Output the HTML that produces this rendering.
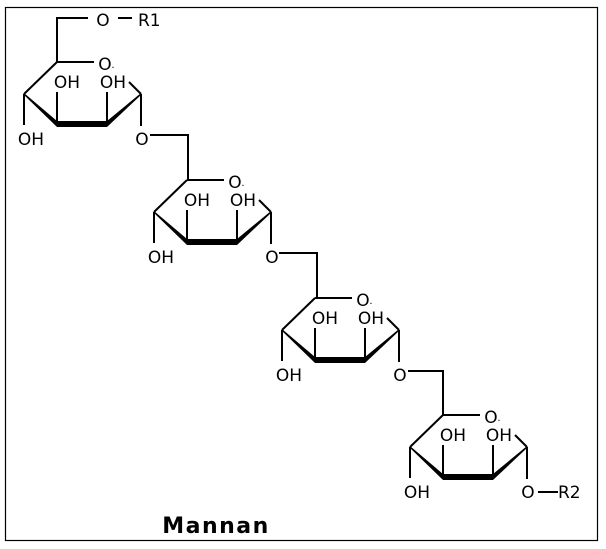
<!DOCTYPE html>
<html><head><style>html,body{margin:0;padding:0;background:#fff}svg{display:block}</style></head><body>
<svg width="606" height="549" viewBox="0 0 606 549" xmlns="http://www.w3.org/2000/svg" font-family="DejaVu Sans, Liberation Sans, sans-serif">
<rect x="5.5" y="7.5" width="592" height="533" fill="#fff" stroke="#000" stroke-width="1.2"/>
<defs>
<g id="u" stroke="#000" stroke-width="2" fill="none">
  <line x1="0" y1="0" x2="37" y2="0"/>
  <line x1="0" y1="0" x2="-33" y2="32"/>
  <line x1="72" y1="20" x2="84" y2="32"/>
  <polygon points="-33,31 -33,33 0,65 0,59" fill="#000" stroke="none"/>
  <polygon points="84,31 84,33 50,65 50,59" fill="#000" stroke="none"/>
  <line x1="0" y1="62" x2="50" y2="62" stroke-width="6"/>
  <line x1="0" y1="62" x2="0" y2="30"/>
  <line x1="50" y1="62" x2="50" y2="30"/>
  <line x1="-33" y1="32" x2="-33" y2="63"/>
  <line x1="84" y1="32" x2="84" y2="64"/>
  <g stroke="none" fill="#000" font-size="17" text-anchor="middle">
    <text x="48" y="8">O</text><text x="56" y="6" font-size="10">.</text>
    <text x="10" y="26">OH</text>
    <text x="56" y="26">OH</text>
    <text x="-26" y="83">OH</text>
    <text x="85" y="83">O</text>
  </g>
</g>
</defs>
<g stroke="#000" stroke-width="2" fill="none">
  <polyline points="57,62 57,18 88,18"/>
  <line x1="118" y1="18" x2="132" y2="18"/>
  <polyline points="150,135 188,135 188,180"/>
  <polyline points="279,253 317,253 317,298"/>
  <polyline points="408,371 443,371 443,415"/>
  <line x1="538" y1="492" x2="558" y2="492"/>
</g>
<g font-size="17" fill="#000">
  <text x="103" y="26" text-anchor="middle">O</text>
  <text x="138" y="26">R1</text>
  <text x="558" y="498">R2</text>
</g>
<use href="#u" transform="translate(57,62)"/>
<use href="#u" transform="translate(187,180)"/>
<use href="#u" transform="translate(315,298)"/>
<use href="#u" transform="translate(443,415)"/>
<text x="216" y="533" font-size="22" letter-spacing="1.5" font-weight="bold" text-anchor="middle" fill="#000">Mannan</text>
</svg>
</body></html>
